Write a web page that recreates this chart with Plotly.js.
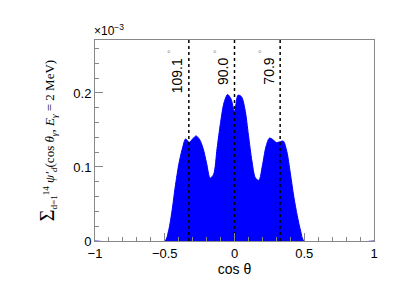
<!DOCTYPE html>
<html>
<head>
<meta charset="utf-8">
<script src="https://cdn.plot.ly/plotly-3.0.1.min.js"></script>
<style>html,body{margin:0;padding:0;background:#fff;}#chart{width:407px;height:303px;}</style>
</head>
<body>
<div id="chart"></div>
<script>
// cos(theta) sample positions and summed psi' values (in units of 1e-3)
const cosTheta = [-1.0,-0.50,-0.475,-0.45,-0.425,-0.40,-0.375,-0.35,-0.325,-0.30,-0.275,-0.25,-0.225,-0.20,-0.175,-0.15,-0.125,-0.10,-0.075,-0.05,-0.025,0.0,0.025,0.05,0.075,0.10,0.125,0.15,0.175,0.20,0.225,0.25,0.275,0.30,0.325,0.35,0.375,0.40,0.425,0.45,0.475,0.50,1.0];
const psiSum = [0,0,0.012,0.038,0.073,0.103,0.124,0.138,0.133,0.138,0.142,0.137,0.125,0.105,0.085,0.090,0.125,0.160,0.187,0.198,0.192,0.175,0.197,0.195,0.178,0.143,0.108,0.085,0.082,0.102,0.127,0.139,0.137,0.133,0.134,0.135,0.121,0.092,0.060,0.034,0.013,0,0];
// marked angles (degrees)
const angles = [109.1, 90.0, 70.9];
const angleLabels = ["109.1", "90.0", "70.9"];
const yMax = 0.2716;

const angleCos = angles.map(a => Math.cos(a * Math.PI / 180));

const traces = [{
  x: cosTheta, y: psiSum, type: 'scatter', mode: 'lines',
  line: {color: '#0000ff', width: 1, shape: 'spline', smoothing: 0.8},
  fill: 'tozeroy', fillcolor: '#0000ff', hoverinfo: 'skip'
}];
angleCos.forEach(c => traces.push({
  x: [c, c], y: [0, yMax], type: 'scatter', mode: 'lines',
  line: {color: '#000', width: 1.5, dash: 'dot'}, hoverinfo: 'skip'
}));

const annotations = [];
angleCos.forEach((c, i) => {
  annotations.push({
    x: c, y: yMax, xref: 'x', yref: 'y', text: angleLabels[i],
    textangle: -90, showarrow: false, xanchor: 'right', yanchor: 'top',
    xshift: -2, yshift: -16,
    font: {family: 'Liberation Sans, Arial, sans-serif', size: 14, color: '#000'}
  });
  annotations.push({
    x: c, y: yMax, xref: 'x', yref: 'y', text: '°',
    showarrow: false, xanchor: 'center', yanchor: 'middle',
    xshift: -20, yshift: -14,
    font: {family: 'Liberation Sans, Arial, sans-serif', size: 9, color: '#888'}
  });
});
annotations.push({
  x: 0, y: 1, xref: 'paper', yref: 'paper', text: '×10<sup>−3</sup>',
  showarrow: false, xanchor: 'left', yanchor: 'bottom', xshift: -3, yshift: 0,
  font: {family: 'Liberation Sans, Arial, sans-serif', size: 12, color: '#000'}
});

const layout = {
  width: 407, height: 303,
  margin: {l: 95, r: 33, t: 40, b: 62},
  paper_bgcolor: '#fff', plot_bgcolor: '#fff',
  showlegend: false,
  font: {family: 'Liberation Sans, Arial, sans-serif', size: 13, color: '#000'},
  xaxis: {
    range: [-1, 1], tickvals: [-1, -0.5, 0, 0.5, 1], ticktext: ['−1', '−0.5', '0', '0.5', '1'],
    ticks: 'inside', ticklen: 8, tickcolor: '#888', tickwidth: 1,
    minor: {dtick: 0.1, ticks: 'inside', ticklen: 4, tickcolor: '#888'},
    showgrid: false, zeroline: false, showline: true, mirror: true, linecolor: '#888', linewidth: 1,
    title: {text: 'cos θ', font: {size: 14}, standoff: 4},
    tickfont: {size: 13}
  },
  yaxis: {
    range: [0, yMax], tickvals: [0, 0.1, 0.2], ticktext: ['0', '0.1', '0.2'],
    ticks: 'inside', ticklen: 8, tickcolor: '#888', tickwidth: 1,
    minor: {dtick: 0.02, ticks: 'inside', ticklen: 4, tickcolor: '#888'},
    showgrid: false, zeroline: false, showline: true, mirror: true, linecolor: '#888', linewidth: 1,
    title: {text: '<span style="font-size:20px">Σ</span><sub>d=1</sub><sup>14</sup> <i>ψ′<sub>d</sub></i>(cos <i>θ<sub>γ</sub></i>, <i>E<sub>γ</sub></i> = 2 MeV)',
            font: {family: 'Liberation Serif, Times New Roman, serif', size: 13}, standoff: 15},
    tickfont: {size: 13}
  },
  annotations: annotations
};

Plotly.newPlot('chart', traces, layout, {staticPlot: true, displayModeBar: false});
</script>
</body>
</html>
